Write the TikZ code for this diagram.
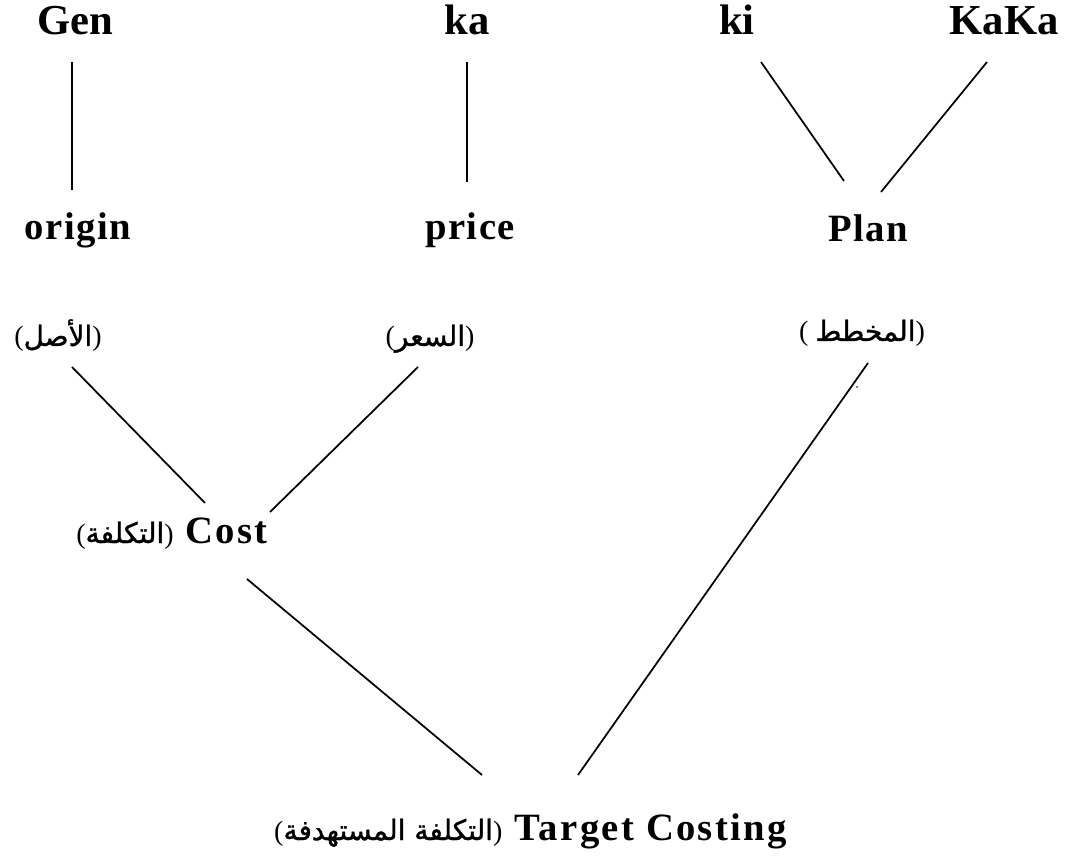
\documentclass[tikz,border=0pt]{standalone}
\usepackage{fontspec}
\setmainfont{Liberation Serif}
\newfontfamily\arabicfont[Script=Arabic,FakeBold=1.2]{DejaVu Sans}
\TeXXeTstate=1
\newcommand{\ar}[1]{{\arabicfont\beginR #1\endR}}
\begin{document}
\begin{tikzpicture}[x=0.75pt,y=-0.75pt,
  toplbl/.style={font=\fontsize{32}{36}\selectfont\bfseries, inner sep=0pt, anchor=base},
  lbl/.style={font=\fontsize{29}{34}\selectfont\bfseries\addfontfeature{LetterSpace=4}, inner sep=0pt, anchor=base},
  arlbl/.style={font=\fontsize{21}{26}\selectfont, inner sep=0pt, anchor=base},
  term/.style={font=\fontsize{29}{34}\selectfont\bfseries\addfontfeature{LetterSpace=6}, inner sep=0pt, anchor=base east},
  link/.style={line width=1.3pt}]
\useasboundingbox (0,0) rectangle (1067,862);

% top row: Japanese syllables
\node[toplbl] (gen)  at (75,35)   {Gen};
\node[toplbl] (ka)   at (467,35)  {ka};
\node[toplbl] (ki)   at (737,35)  {ki};
\node[toplbl] (kaka) at (1004,35) {KaKa};

% English meanings
\node[lbl] (origin) at (78,240)  {origin};
\node[lbl] (price)  at (470,240) {price};
\node[lbl] (plan)   at (868,242) {Plan};

% Arabic meanings
\node[arlbl] (asl)  at (58,346)  {(\ar{الأصل})};
\node[arlbl] (sir)  at (430,346) {(\ar{السعر})};
\node[arlbl] (mukh) at (862,341) {( \ar{المخطط})};

% combined terms
\node[term] (cost) at (268,543)
  {{\mdseries\fontsize{21}{26}\selectfont(\ar{التكلفة})} Cost};
\node[term] (target) at (787,840)
  {{\mdseries\fontsize{21}{26}\selectfont(\ar{التكلفة المستهدفة})} Target Costing};

% connector end points
\coordinate (gen-b)    at (72,62);   \coordinate (origin-t)  at (72,190);
\coordinate (ka-b)     at (467,62);  \coordinate (price-t)   at (467,182);
\coordinate (ki-b)     at (761,62);  \coordinate (plan-tl)   at (844,181);
\coordinate (kaka-b)   at (987,62);  \coordinate (plan-tr)   at (881,192);
\coordinate (asl-b)    at (72,367);  \coordinate (cost-tl)   at (205,503);
\coordinate (sir-b)    at (418,367); \coordinate (cost-tr)   at (270,512);
\coordinate (cost-b)   at (247,579); \coordinate (target-tl) at (482,775);
\coordinate (mukh-b)   at (868,363); \coordinate (target-tr) at (578,775);

\draw[link] (gen-b) -- (origin-t);
\draw[link] (ka-b) -- (price-t);
\draw[link] (ki-b) -- (plan-tl);
\draw[link] (kaka-b) -- (plan-tr);
\draw[link] (asl-b) -- (cost-tl);
\draw[link] (sir-b) -- (cost-tr);
\draw[link] (cost-b) -- (target-tl);
\draw[link] (mukh-b) -- (target-tr);

% stray dot beside the plan connector
\fill (857,387) circle (0.8);
\end{tikzpicture}
\end{document}
